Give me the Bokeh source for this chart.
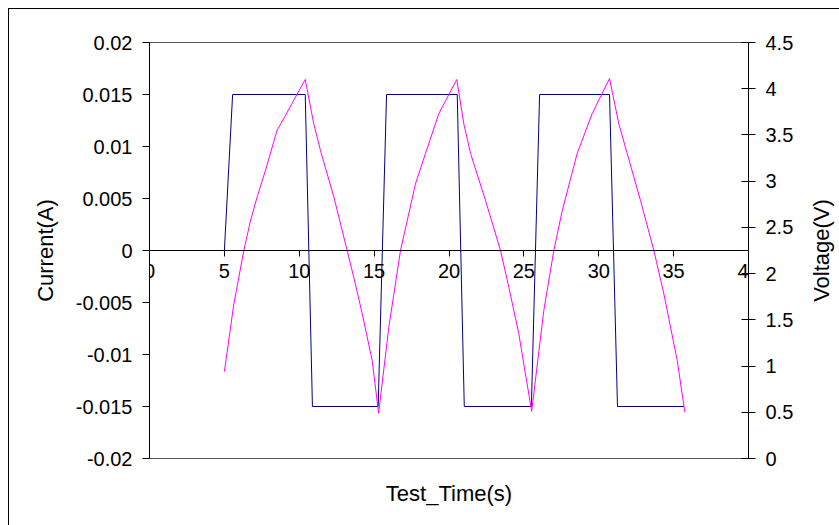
import math
from bokeh.plotting import figure
from bokeh.models import LinearAxis, Range1d, FixedTicker, Label
from bokeh.embed import file_html
from bokeh.resources import INLINE

# ---- data ----
time_current = [5.0, 5.55, 10.4, 10.88, 15.27, 15.83, 20.55, 21.02, 25.5, 26.05, 30.72, 31.25, 35.7]
current = [0.0, 0.015, 0.015, -0.015, -0.015, 0.015, 0.015, -0.015, -0.015, 0.015, 0.015, -0.015, -0.015]

time_voltage = [5.0, 5.63, 6.3, 6.74, 7.19, 7.75, 8.52, 9.08, 9.75, 10.4,
                10.97, 11.42, 12.31, 13.2, 13.64, 14.2, 14.87, 15.3,
                15.98, 16.76, 17.76, 18.43, 19.32, 20.52,
                20.99, 21.44, 22.44, 23.44, 24.0, 24.66, 25.52,
                26.33, 27.0, 27.56, 28.56, 29.56, 30.72,
                31.34, 31.9, 32.79, 33.68, 34.35, 35.24, 35.75]
voltage = [0.94, 1.67, 2.25, 2.57, 2.83, 3.12, 3.55, 3.71, 3.91, 4.10,
           3.62, 3.33, 2.83, 2.25, 1.96, 1.57, 1.06, 0.49,
           1.42, 2.25, 2.97, 3.30, 3.73, 4.10,
           3.62, 3.30, 2.79, 2.25, 1.85, 1.35, 0.51,
           1.60, 2.25, 2.68, 3.30, 3.73, 4.11,
           3.62, 3.30, 2.79, 2.25, 1.78, 1.06, 0.50]

x_ticks = [0, 5, 10, 15, 20, 25, 30, 35, 40]
x_tick_labels = ["0", "5", "10", "15", "20", "25", "30", "35", "40"]
current_ticks = [-0.02, -0.015, -0.01, -0.005, 0.0, 0.005, 0.01, 0.015, 0.02]
current_tick_labels = ["-0.02", "-0.015", "-0.01", "-0.005", "0", "0.005", "0.01", "0.015", "0.02"]
voltage_ticks = [0.0, 0.5, 1.0, 1.5, 2.0, 2.5, 3.0, 3.5, 4.0, 4.5]
voltage_tick_labels = ["0", "0.5", "1", "1.5", "2", "2.5", "3", "3.5", "4", "4.5"]

FONT = "Liberation Sans"
TICK_FS = "20px"
TITLE_FS = "22px"

p = figure(frame_width=599, frame_height=416,
           x_range=Range1d(0, 40), y_range=Range1d(-0.02, 0.02),
           x_axis_location=None, y_axis_location=None,
           output_backend="svg", toolbar_location=None,
           min_border_left=140, min_border_right=91,
           min_border_top=33, min_border_bottom=67,
           background_fill_color="white", border_fill_color="white")
p.styles = {"border-left": "1px solid black", "border-top": "1px solid black",
            "margin-left": "8px", "margin-top": "8px"}
p.outline_line_color = "#555555"
p.outline_line_width = 1
p.extra_y_ranges = {"volt": Range1d(0, 4.5)}
p.grid.visible = False
p.xgrid.visible = False
p.ygrid.visible = False

def style(ax):
    ax.major_label_text_font = FONT
    ax.major_label_text_font_size = TICK_FS
    ax.major_label_text_color = "black"
    ax.axis_label_text_font = FONT
    ax.axis_label_text_font_size = TITLE_FS
    ax.axis_label_text_font_style = "normal"
    ax.axis_label_text_color = "black"
    ax.axis_line_color = "black"
    ax.major_tick_line_color = "black"
    ax.minor_tick_line_color = None

# left axis
ly = LinearAxis(ticker=FixedTicker(ticks=current_ticks),
                major_label_overrides=dict(zip(current_ticks, current_tick_labels)),
                axis_label="Current(A)")
style(ly)
ly.major_tick_out = 7
ly.major_tick_in = 0
ly.major_label_standoff = 10
ly.axis_label_standoff = 15
p.add_layout(ly, "left")

# right axis (title drawn separately so it reads bottom-to-top)
ry = LinearAxis(y_range_name="volt", ticker=FixedTicker(ticks=voltage_ticks),
                major_label_overrides=dict(zip(voltage_ticks, voltage_tick_labels)))
style(ry)
ry.major_tick_out = 7
ry.major_tick_in = 7
ry.major_label_standoff = 10
p.add_layout(ry, "right")

right_title = Label(text="Voltage(V)", x=25, y=208, x_units="screen", y_units="screen",
                    angle=math.pi / 2, text_align="center", text_baseline="middle",
                    text_font=FONT, text_font_size=TITLE_FS, text_color="black")
p.add_layout(right_title, "right")

# x axis crossing at current = 0
xa = LinearAxis(ticker=FixedTicker(ticks=x_ticks),
                major_label_overrides=dict(zip(x_ticks, x_tick_labels)),
                fixed_location=0)
style(xa)
xa.major_tick_out = 6
xa.major_tick_in = 0
xa.major_label_standoff = 7
p.add_layout(xa, "below")

# x title axis at bottom
xt = LinearAxis(ticker=FixedTicker(ticks=[]), axis_label="Test_Time(s)")
style(xt)
xt.axis_line_color = None
xt.major_tick_out = 0
xt.major_tick_in = 0
xt.major_label_standoff = 0
xt.axis_label_standoff = 22
p.add_layout(xt, "below")

p.line(time_current, current, line_color="#000080", line_width=1)
p.line(time_voltage, voltage, line_color="#FF00FF", line_width=1, y_range_name="volt")

open("out.html", "w").write(file_html(p, INLINE))
